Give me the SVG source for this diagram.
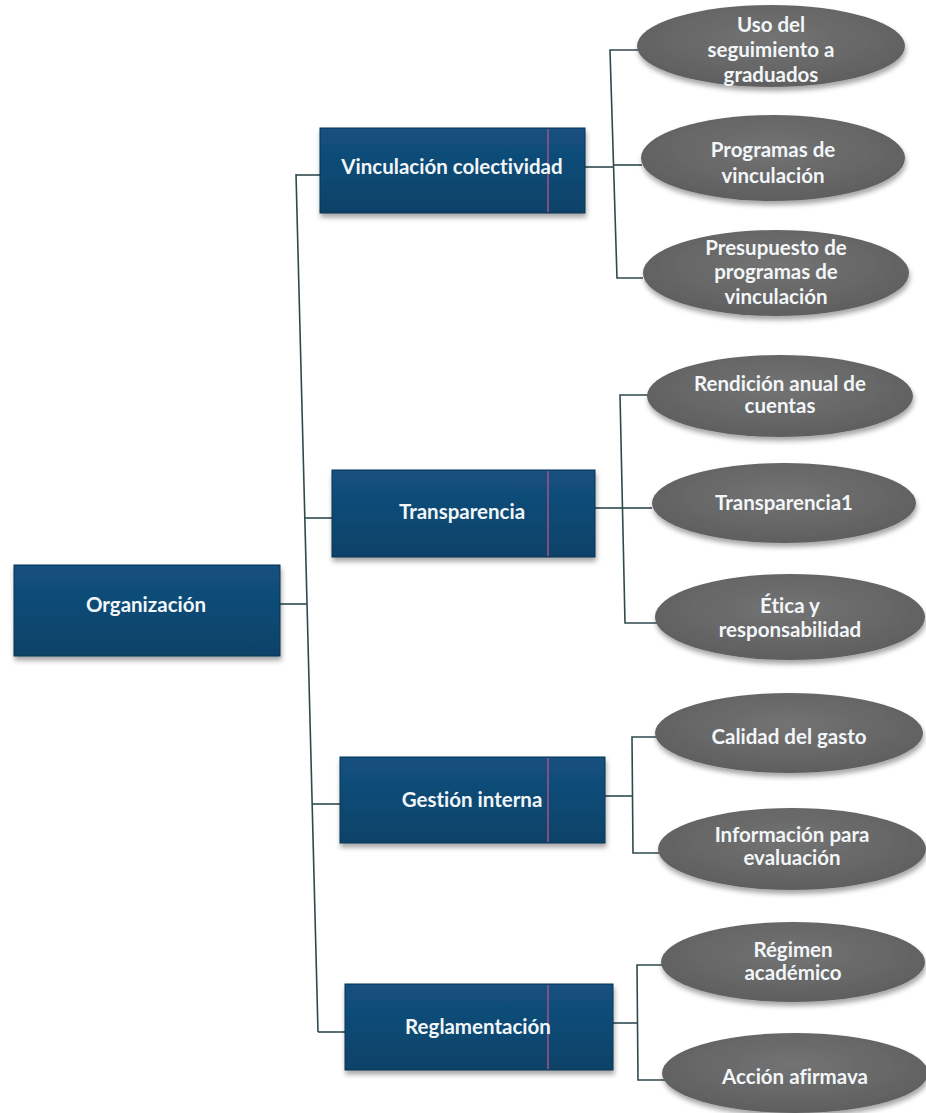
<svg xmlns="http://www.w3.org/2000/svg" width="926" height="1113" viewBox="0 0 926 1113">
<defs>
<linearGradient id="bx" x1="0" y1="0" x2="0" y2="1">
<stop offset="0" stop-color="#135180"/>
<stop offset="1" stop-color="#0c4268"/>
</linearGradient>
<radialGradient id="el" cx="0.5" cy="0.4" r="0.6">
<stop offset="0" stop-color="#737373"/>
<stop offset="1" stop-color="#5f5f5f"/>
</radialGradient>
<filter id="sh" x="-10%" y="-20%" width="120%" height="150%">
<feDropShadow dx="1" dy="4" stdDeviation="2.5" flood-color="#000" flood-opacity="0.35"/>
</filter>
</defs>
<style>
.box{fill:url(#bx);stroke:#0a3350;stroke-width:1;filter:url(#sh)}
.ell{fill:url(#el);filter:url(#sh)}
.pk{stroke:#a4508e;stroke-width:1.5}
.t{font-family:Lato,"Open Sans","Liberation Sans",sans-serif;font-weight:bold;font-size:20.5px;fill:#f2f6f8;text-anchor:middle;font-variant-ligatures:none}
.c{fill:none;stroke:#2f4a4f;stroke-width:1.6}
</style>
<rect width="926" height="1113" fill="#ffffff"/>

<g id="connectors">
<polyline class="c" points="296,174 318,1032"/>
<polyline class="c" points="280,604 307,604"/>
<polyline class="c" points="296,175 320,175"/>
<polyline class="c" points="305,518 332,518"/>
<polyline class="c" points="313,804 340,804"/>
<polyline class="c" points="318,1032 345,1032"/>
<polyline class="c" points="585,167 613,167"/>
<polyline class="c" points="640,50 610,50 617,278 643,278"/>
<polyline class="c" points="613,165 642,165"/>
<polyline class="c" points="595,508 623,508"/>
<polyline class="c" points="650,395 620,395 625,623 657,623"/>
<polyline class="c" points="623,508 652,508"/>
<polyline class="c" points="605,796 632,796"/>
<polyline class="c" points="657,737 632,737 633,853 660,853"/>
<polyline class="c" points="613,1023 637,1023"/>
<polyline class="c" points="664,965 637,965 638,1080 665,1080"/>
</g>

<g id="n-organizacion">
<rect class="box" x="14" y="565" width="266" height="91"/>
<text class="t" x="146" y="612">Organización</text>
</g>

<g id="n-vinculacion">
<rect class="box" x="320" y="128" width="265" height="85"/>
<line class="pk" x1="548" y1="129" x2="548" y2="212"/>
<text class="t" x="452" y="174">Vinculación colectividad</text>
</g>

<g id="n-transparencia">
<rect class="box" x="332" y="470" width="263" height="87"/>
<line class="pk" x1="548" y1="471" x2="548" y2="556"/>
<text class="t" x="462" y="519">Transparencia</text>
</g>

<g id="n-gestion">
<rect class="box" x="340" y="757" width="265" height="86"/>
<line class="pk" x1="548" y1="758" x2="548" y2="842"/>
<text class="t" x="472" y="807">Gestión interna</text>
</g>

<g id="n-reglamentacion">
<rect class="box" x="345" y="984" width="268" height="86"/>
<line class="pk" x1="548" y1="985" x2="548" y2="1069"/>
<text class="t" x="478" y="1034">Reglamentación</text>
</g>

<g id="n-uso">
<ellipse class="ell" cx="771" cy="46" rx="134" ry="41"/>
<text class="t" x="771" y="32">Uso del</text>
<text class="t" x="771" y="57">seguimiento a</text>
<text class="t" x="771" y="82">graduados</text>
</g>

<g id="n-programas">
<ellipse class="ell" cx="773" cy="158" rx="132" ry="43"/>
<text class="t" x="773" y="157">Programas de</text>
<text class="t" x="773" y="183">vinculación</text>
</g>

<g id="n-presupuesto">
<ellipse class="ell" cx="776" cy="273" rx="133" ry="43"/>
<text class="t" x="776" y="255">Presupuesto de</text>
<text class="t" x="776" y="279">programas de</text>
<text class="t" x="776" y="304">vinculación</text>
</g>

<g id="n-rendicion">
<ellipse class="ell" cx="780" cy="396" rx="133" ry="41"/>
<text class="t" x="780" y="391">Rendición anual de</text>
<text class="t" x="780" y="413">cuentas</text>
</g>

<g id="n-transparencia1">
<ellipse class="ell" cx="784" cy="503" rx="132" ry="40"/>
<text class="t" x="784" y="510">Transparencia1</text>
</g>

<g id="n-etica">
<ellipse class="ell" cx="790" cy="617" rx="135" ry="43"/>
<text class="t" x="790" y="613">Ética y</text>
<text class="t" x="790" y="637">responsabilidad</text>
</g>

<g id="n-calidad">
<ellipse class="ell" cx="789" cy="733" rx="134" ry="40"/>
<text class="t" x="789" y="744">Calidad del gasto</text>
</g>

<g id="n-informacion">
<ellipse class="ell" cx="792" cy="849" rx="134" ry="41"/>
<text class="t" x="792" y="842">Información para</text>
<text class="t" x="792" y="865">evaluación</text>
</g>

<g id="n-regimen">
<ellipse class="ell" cx="793" cy="962" rx="132" ry="40"/>
<text class="t" x="793" y="957">Régimen</text>
<text class="t" x="793" y="980">académico</text>
</g>

<g id="n-accion">
<ellipse class="ell" cx="795" cy="1073" rx="133" ry="40"/>
<text class="t" x="795" y="1084">Acción afirmava</text>
</g>
</svg>
